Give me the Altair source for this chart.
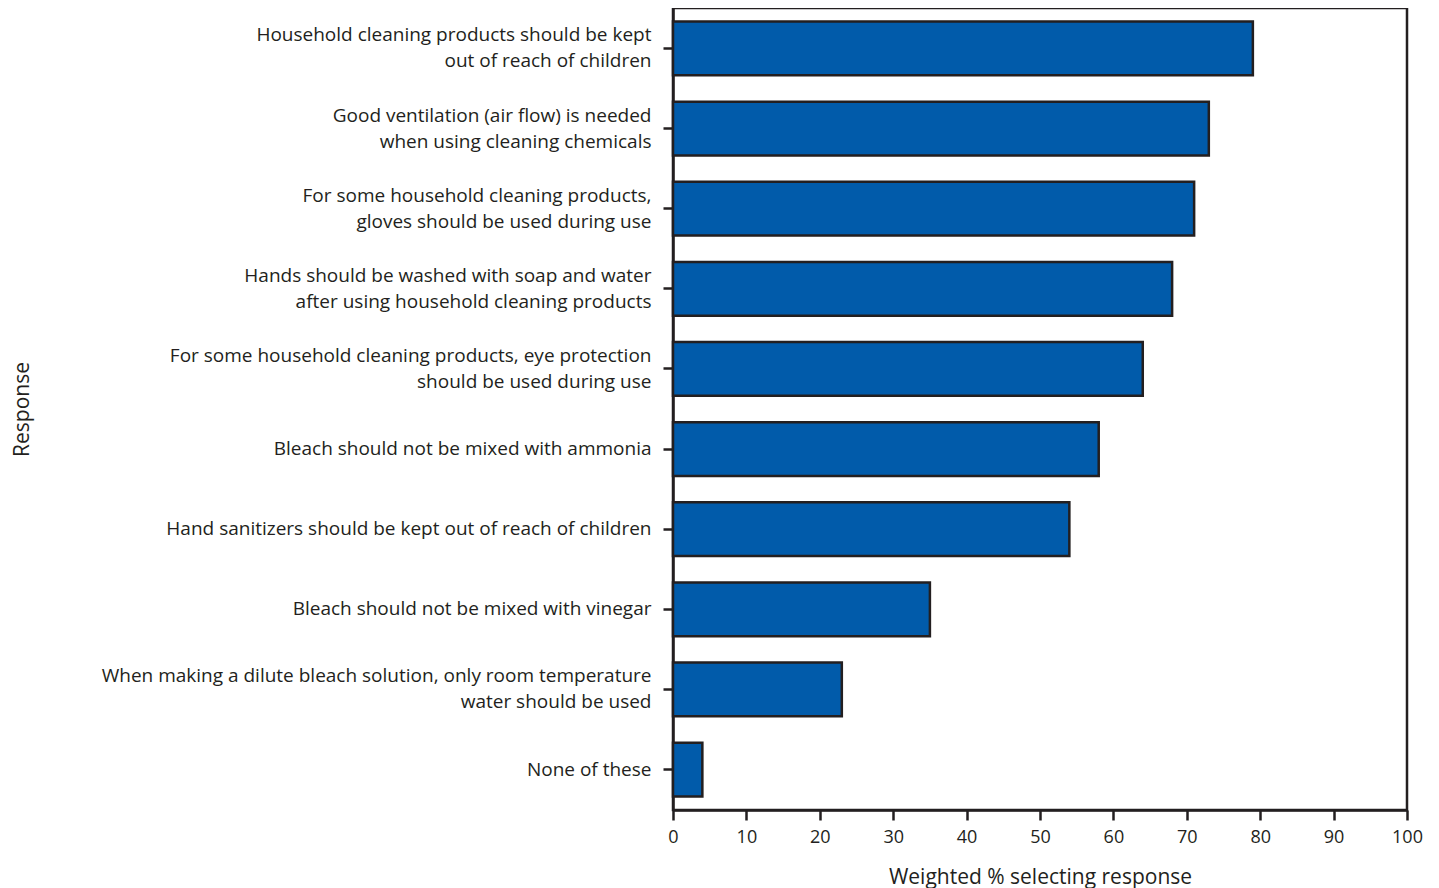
import altair as alt
import pandas as pd

responses = [
    "Household cleaning products should be kept|out of reach of children",
    "Good ventilation (air flow) is needed|when using cleaning chemicals",
    "For some household cleaning products,|gloves should be used during use",
    "Hands should be washed with soap and water|after using household cleaning products",
    "For some household cleaning products, eye protection|should be used during use",
    "Bleach should not be mixed with ammonia",
    "Hand sanitizers should be kept out of reach of children",
    "Bleach should not be mixed with vinegar",
    "When making a dilute bleach solution, only room temperature|water should be used",
    "None of these",
]
values = [79, 73, 71, 68, 64, 58, 54, 35, 23, 4]
x_ticks = [0, 10, 20, 30, 40, 50, 60, 70, 80, 90, 100]

df = pd.DataFrame({"response": responses, "pct": values})

FONT = "Open Sans"
INK = "#231F20"

chart = alt.Chart(df).mark_bar(
    color="#015BAA", stroke=INK, strokeWidth=2.5
).encode(
    x=alt.X(
        "pct:Q",
        scale=alt.Scale(domain=[0, 100], nice=False),
        axis=alt.Axis(
            title="Weighted % selecting response",
            values=x_ticks,
            grid=False,
            labelFlush=False,
            tickSize=10,
            tickWidth=2.5,
            tickColor=INK,
            domainColor=INK,
            domainWidth=2.5,
            labelFont=FONT,
            labelFontSize=18,
            labelColor=INK,
            labelPadding=8,
            titleFont=FONT,
            titleFontSize=21,
            titleFontWeight="normal",
            titleColor=INK,
            titlePadding=20,
        ),
    ),
    y=alt.Y(
        "response:N",
        sort=responses,
        scale=alt.Scale(paddingInner=0.33, paddingOuter=0.17),
        axis=alt.Axis(
            title="Response",
            labelExpr="split(datum.label, '|')",
            labelOffset={
                "condition": {"test": "indexof(datum.value, '|') >= 0", "value": -13},
                "value": 0,
            },
            grid=False,
            tickSize=10,
            tickWidth=2.5,
            tickColor=INK,
            domainColor=INK,
            domainWidth=2.5,
            labelFont=FONT,
            labelFontSize=19,
            labelColor=INK,
            labelPadding=12,
            labelLimit=800,
            labelLineHeight=26,
            titleFont=FONT,
            titleFontSize=21,
            titleFontWeight="normal",
            titleColor=INK,
            titleX=-645,
            titleY=401,
            titleBaseline="alphabetic",
            titleAlign="center",
            titleAngle=270,
        ),
    ),
).properties(
    width=734,
    height=802,
    padding={"left": 3, "top": 0, "right": 5, "bottom": 5},
).configure_view(
    stroke=INK, strokeWidth=2.5
)

chart.save("out.html", embed_options={"renderer": "svg", "actions": False})
